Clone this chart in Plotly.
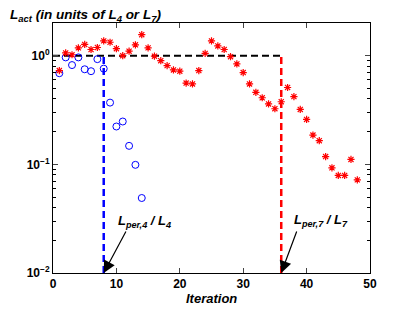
import plotly.graph_objects as go

iter_L4 = list(range(1, 15))
ratio_L4 = [0.69, 0.965, 0.82, 0.965, 0.75, 0.72, 0.93, 0.76, 0.37, 0.223,
            0.248, 0.148, 0.099, 0.049]
iter_L7 = list(range(1, 49))
ratio_L7 = [0.73, 1.06, 1.02, 1.18, 1.27, 1.14, 1.19, 1.37, 1.33, 1.16,
            1.0, 1.10, 1.26, 1.56, 1.18, 0.99, 0.90, 0.81, 0.74, 0.72,
            0.56, 0.55, 0.73, 1.05, 1.37, 1.23, 1.14, 0.98, 0.84, 0.70,
            0.55, 0.46, 0.41, 0.36, 0.325, 0.377, 0.51, 0.42, 0.32, 0.259,
            0.186, 0.165, 0.118, 0.093, 0.079, 0.079, 0.111, 0.072]
unity_level = 1.0
y_floor = 0.01
stop_L4 = 8
stop_L7 = 36
x_ticks = [0, 10, 20, 30, 40, 50]
y_ticks = [0.01, 0.1, 1]
y_ticktext = ["10<sup>−2</sup>", "10<sup>−1</sup>", "10<sup>0</sup>"]

FONT = "Liberation Sans, Arial, sans-serif"
fig = go.Figure()

fig.add_trace(go.Scatter(x=[0, stop_L7], y=[unity_level, unity_level], mode="lines",
                         line=dict(color="black", width=2, dash="7px,4px"), showlegend=False))
fig.add_trace(go.Scatter(x=[stop_L4, stop_L4], y=[y_floor, unity_level], mode="lines",
                         line=dict(color="#0000ff", width=2.5, dash="7px,4px"), showlegend=False))
fig.add_trace(go.Scatter(x=[stop_L7, stop_L7], y=[y_floor, unity_level], mode="lines",
                         line=dict(color="#ff0000", width=2.5, dash="7px,4px"), showlegend=False))
fig.add_trace(go.Scatter(x=iter_L4, y=ratio_L4, mode="markers",
                         marker=dict(symbol="circle-open", size=7, color="#0000ff",
                                     line=dict(width=1, color="#0000ff")), showlegend=False))
fig.add_trace(go.Scatter(x=iter_L7, y=ratio_L7, mode="markers",
                         marker=dict(symbol="asterisk-open", size=6, color="#ff0000",
                                     line=dict(width=1.2, color="#ff0000")), showlegend=False))

minor_vals = [m * 10 ** e for e in (-2, -1) for m in range(2, 10)] + [2]

fig.update_xaxes(range=[0, 50], tickvals=x_ticks, ticks="inside", ticklen=5,
                 showline=True, linecolor="black", linewidth=1, mirror="allticks",
                 showgrid=False, zeroline=False, automargin=False,
                 tickfont=dict(family=FONT, size=12, color="black", weight="bold"))
fig.update_yaxes(type="log", range=[-2, 0.301], tickvals=y_ticks, ticktext=y_ticktext,
                 ticks="inside", ticklen=5, showline=True, linecolor="black", linewidth=1,
                 mirror="allticks", showgrid=False, zeroline=False, automargin=False,
                 minor=dict(tickvals=minor_vals, ticks="inside", ticklen=3, tickcolor="black"),
                 tickfont=dict(family=FONT, size=12, color="black", weight="bold"))

fig.add_annotation(xref="paper", yref="paper", x=0.5, y=-0.1, xanchor="center", yanchor="middle",
                   text="<b><i>Iteration</i></b>", showarrow=False,
                   font=dict(family=FONT, size=13, color="black"))
fig.add_annotation(xref="paper", yref="paper", x=-0.142, y=1.072, xanchor="left", yanchor="top",
                   text="<b><i>L<sub>act</sub> (in units of L<sub>4</sub> or L<sub>7</sub>)</i></b>",
                   showarrow=False, font=dict(family=FONT, size=13.5, color="black"))
fig.add_annotation(x=14.4, y=-1.53, text="<b><i>L<sub>per,4</sub> / L<sub>4</sub></i></b>",
                   showarrow=False, font=dict(family=FONT, size=13, color="black"))
fig.add_annotation(x=42.3, y=-1.52, text="<b><i>L<sub>per,7</sub> / L<sub>7</sub></i></b>",
                   showarrow=False, font=dict(family=FONT, size=13, color="black"))
fig.add_annotation(x=stop_L4, y=-2, ax=23, ay=-43, text="", showarrow=True,
                   arrowhead=2, arrowsize=2, arrowwidth=1.2, arrowcolor="black")
fig.add_annotation(x=stop_L7, y=-2, ax=16, ay=-43, text="", showarrow=True,
                   arrowhead=2, arrowsize=2, arrowwidth=1.2, arrowcolor="black")

fig.update_layout(width=401, height=301, margin=dict(l=45, r=39, t=15, b=36),
                  plot_bgcolor="white", paper_bgcolor="white", showlegend=False)
fig.write_html("out.html")
